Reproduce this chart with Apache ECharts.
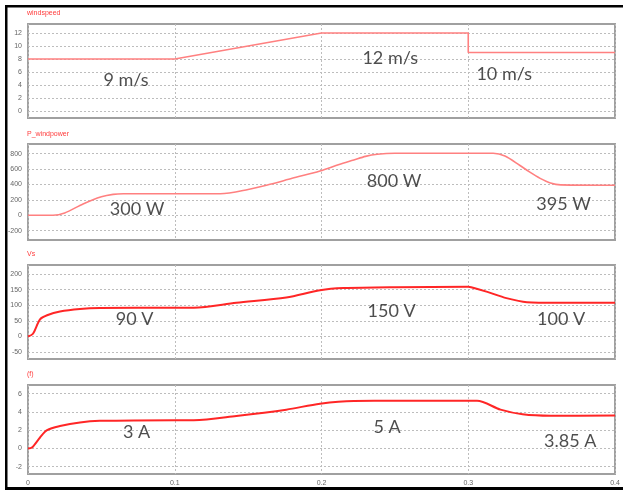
<!DOCTYPE html>
<html><head><meta charset="utf-8">
<script src="https://cdn.jsdelivr.net/npm/echarts@6/dist/echarts.min.js"></script>
<style>html,body{margin:0;padding:0;background:#fff}#c{width:623px;height:490px}</style>
</head><body><div id="c"></div>
<script>
// ---- data ----
const xTicks = [0, 0.1, 0.2, 0.3, 0.4];
const windT = [0, 0.1, 0.2, 0.3, 0.3, 0.4];
const windV = [8, 8, 12, 12, 9, 9];
const powerT = [0, 0.017, 0.025, 0.0375, 0.05, 0.058, 0.065, 0.131, 0.15, 0.165, 0.18, 0.199, 0.212, 0.222, 0.23, 0.238, 0.25, 0.317, 0.325, 0.335, 0.342, 0.349, 0.356, 0.363, 0.4];
const powerV = [0, 0, 30, 147, 240, 272, 280, 280, 335, 403, 480, 575, 660, 718, 765, 792, 805, 805, 770, 650, 560, 480, 420, 395, 390];
const vsT = [0, 0.0034, 0.0082, 0.013, 0.0218, 0.0354, 0.049, 0.1, 0.113, 0.142, 0.176, 0.199, 0.215, 0.25, 0.3, 0.302, 0.313, 0.326, 0.34, 0.36, 0.4];
const vsV = [0, 9, 55, 68, 80, 88, 91, 92, 92, 108, 125, 148, 155, 158, 159, 158, 143, 123, 110, 108, 108];
const curT = [0, 0.0027, 0.0082, 0.013, 0.0218, 0.0354, 0.049, 0.1, 0.113, 0.142, 0.176, 0.199, 0.222, 0.25, 0.3, 0.306, 0.322, 0.337, 0.356, 0.4];
const curV = [0, 0.1, 1.2, 2.0, 2.45, 2.85, 3.02, 3.1, 3.1, 3.56, 4.25, 4.9, 5.2, 5.22, 5.22, 5.22, 4.25, 3.74, 3.58, 3.6];
const yTicks = [[0, 2, 4, 6, 8, 10, 12], [-200, 0, 200, 400, 600, 800], [-50, 0, 50, 100, 150, 200], [-2, 0, 2, 4, 6]];
const yRange = [[-1.08, 13.38], [-321, 926], [-72, 229], [-2.8, 6.95]];
const titles = ['windspeed', 'P_windpower', 'Vs', '(f)'];
const annoText = [['9 m/s', '12 m/s', '10 m/s'], ['300 W', '800 W', '395 W'], ['90 V', '150 V', '100 V'], ['3 A', '5 A', '3.85 A']];
const annoT = [[0.0668, 0.2468, 0.3245], [0.0743, 0.2495, 0.365], [0.0726, 0.2478, 0.3633], [0.074, 0.2447, 0.3695]];
const annoV = [[4.77, 8.15, 5.6], [75, 446, 147], [56, 80, 54], [1.78, 2.32, 0.8]];

// ---- layout ----
const gridTops = [24, 144, 265, 385];
const gridHeights = [94, 96, 94, 89];
const titleY = [14, 135, 255, 375];
const lineColors = ['#ff8080', '#ff8080', '#ff2626', '#ff2626'];
const lineWidths = [1.6, 1.6, 2, 2];
const seriesT = [windT, powerT, vsT, curT];
const seriesV = [windV, powerV, vsV, curV];

const grids = [], xAxes = [], yAxes = [], series = [];
for (let i = 0; i < 4; i++) {
  grids.push({left: 28, right: 8, top: gridTops[i], height: gridHeights[i], show: true,
    borderColor: '#a0a0a0', borderWidth: 2, backgroundColor: 'transparent'});
  xAxes.push({type: 'value', gridIndex: i, min: 0, max: 0.4, interval: 0.1,
    axisLine: {show: false}, axisTick: {show: false},
    axisLabel: {show: i === 3, fontSize: 7, color: '#666', margin: 6, fontFamily: 'Liberation Sans',
      formatter: v => String(+v.toFixed(1))},
    splitLine: {show: true, lineStyle: {color: '#bdbdbd', type: [2, 2], width: 1}}});
  yAxes.push({type: 'value', gridIndex: i, min: yRange[i][0], max: yRange[i][1],
    axisLine: {show: false},
    axisTick: {show: false, customValues: yTicks[i]},
    axisLabel: {fontSize: 7, color: '#666', margin: 6, fontFamily: 'Liberation Sans', customValues: yTicks[i]},
    splitLine: {show: true, lineStyle: {color: '#bdbdbd', type: [2, 2], width: 1}}});
  series.push({type: 'line', xAxisIndex: i, yAxisIndex: i, showSymbol: false, symbol: 'none',
    smooth: i === 0 ? false : 0.3,
    lineStyle: {color: lineColors[i], width: lineWidths[i]},
    data: seriesT[i].map((t, k) => [t, seriesV[i][k]]), z: 3, animation: false});
  series.push({type: 'scatter', xAxisIndex: i, yAxisIndex: i, symbolSize: 1,
    itemStyle: {color: 'rgba(0,0,0,0)'},
    label: {show: true, position: 'inside', formatter: p => p.name, fontSize: 18,
      color: '#222', fontFamily: 'Lato'},
    data: annoText[i].map((s, k) => ({name: s, value: [annoT[i][k], annoV[i][k]]})), z: 5, animation: false});
}

const graphic = [
  {type: 'rect', shape: {x: 5, y: 5, width: 618, height: 2.5}, style: {fill: '#000'}},
  {type: 'rect', shape: {x: 5, y: 5, width: 2.5, height: 485}, style: {fill: '#000'}},
  {type: 'rect', shape: {x: 5, y: 487, width: 618, height: 3}, style: {fill: '#000'}}
];
titles.forEach((t, i) => graphic.push({type: 'text', left: 27, top: titleY[i] - 4,
  style: {text: t, fontSize: 7, fill: '#ff3b3b', fontFamily: 'Liberation Sans'}}));

const chart = echarts.init(document.getElementById('c'), null, {renderer: 'canvas'});
chart.setOption({animation: false, backgroundColor: '#fff', grid: grids, xAxis: xAxes, yAxis: yAxes, series, graphic});
</script></body></html>
